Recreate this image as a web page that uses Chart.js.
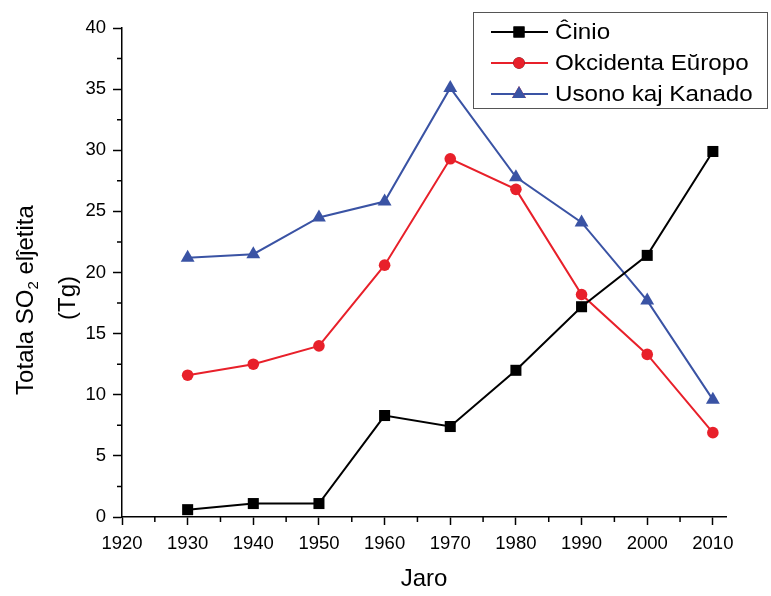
<!DOCTYPE html>
<html>
<head>
<meta charset="utf-8">
<script src="https://cdn.jsdelivr.net/npm/chart.js@4"></script>
<style>
  html, body { margin: 0; padding: 0; background: #fff; }
  canvas { display: block; }
</style>
</head>
<body>
<canvas id="chart" width="771" height="596"></canvas>
<script>
const years = [1930, 1940, 1950, 1960, 1970, 1980, 1990, 2000, 2010];
const seriesNames = ["Ĉinio", "Okcidenta Eŭropo", "Usono kaj Kanado"];
const china = [0.6, 1.1, 1.1, 8.3, 7.4, 12.0, 17.2, 21.4, 29.9];
const westEurope = [11.6, 12.5, 14.0, 20.6, 29.3, 26.8, 18.2, 13.3, 6.9];
const usaCanada = [21.2, 21.5, 24.5, 25.8, 35.1, 27.8, 24.1, 17.7, 9.6];
const xMinorTicks = [1925, 1935, 1945, 1955, 1965, 1975, 1985, 1995, 2005];
const yMinorTicks = [2.5, 7.5, 12.5, 17.5, 22.5, 27.5, 32.5, 37.5];

const FONT = "'Liberation Sans', Arial, sans-serif";

function pts(vals) {
    return vals.map((v, i) => ({ x: years[i], y: v }));
}

const styles = [
    { color: "#000000", pointStyle: "rect", radius: 7.8 },
    { color: "#e8202a", pointStyle: "circle", radius: 5.8 },
    { color: "#3a53a4", pointStyle: "triangle", radius: 8 }
];

const extras = {
    id: "extras",
    afterDraw(chart) {
        const ctx = chart.ctx;
        const xs = chart.scales.x, ys = chart.scales.y;
        ctx.save();
        // minor ticks
        ctx.strokeStyle = "#000";
        ctx.lineWidth = 1.5;
        ctx.beginPath();
        xMinorTicks.forEach(v => {
            const px = xs.getPixelForValue(v);
            ctx.moveTo(px, ys.bottom);
            ctx.lineTo(px, ys.bottom + 5);
        });
        yMinorTicks.forEach(v => {
            const py = ys.getPixelForValue(v);
            ctx.moveTo(xs.left, py);
            ctx.lineTo(xs.left - 5, py);
        });
        ctx.stroke();

        // y axis title, two lines with subscript
        ctx.fillStyle = "#000";
        ctx.translate(0, 0);
        const cy = 300;
        ctx.save();
        ctx.translate(33, cy);
        ctx.rotate(-Math.PI / 2);
        ctx.textBaseline = "alphabetic";
        const big = "24px " + FONT, small = "15px " + FONT;
        ctx.font = big;
        const a = "Totala SO", c = " elĵetita";
        const wa = ctx.measureText(a).width, wc = ctx.measureText(c).width;
        ctx.font = small;
        const wb = ctx.measureText("2").width;
        let x = -(wa + wb + wc) / 2;
        ctx.font = big;
        ctx.textAlign = "left";
        ctx.fillText(a, x, 0);
        ctx.font = small;
        ctx.fillText("2", x + wa, 5);
        ctx.font = big;
        ctx.fillText(c, x + wa + wb, 0);
        ctx.restore();
        ctx.save();
        ctx.translate(75, 298);
        ctx.rotate(-Math.PI / 2);
        ctx.font = big;
        ctx.textAlign = "center";
        ctx.textBaseline = "alphabetic";
        ctx.fillText("(Tg)", 0, 0);
        ctx.restore();

        // legend box
        ctx.strokeStyle = "#555";
        ctx.lineWidth = 1;
        ctx.strokeRect(473.5, 12.5, 294, 96);
        chart.data.datasets.forEach((ds, i) => {
            const y = 32 + i * 31;
            ctx.strokeStyle = ds.borderColor;
            ctx.lineWidth = 2;
            ctx.beginPath();
            ctx.moveTo(491, y);
            ctx.lineTo(548, y);
            ctx.stroke();
            Chart.helpers.drawPoint(ctx, {
                pointStyle: ds.pointStyle,
                radius: ds.pointRadius,
                borderWidth: 0,
                rotation: 0
            }, 519, y);
            ctx.fillStyle = ds.borderColor;
            ctx.fill();
            ctx.save();
            ctx.translate(555, y);
            ctx.scale(1.1, 1);
            ctx.fillStyle = "#000";
            ctx.font = "22px " + FONT;
            ctx.textBaseline = "middle";
            ctx.textAlign = "left";
            ctx.fillText(ds.label, 0, 1);
            ctx.restore();
        });
        ctx.restore();
    }
};

new Chart(document.getElementById("chart"), {
    type: "line",
    data: {
        datasets: [china, westEurope, usaCanada].map((vals, i) => ({
            label: seriesNames[i],
            data: pts(vals),
            borderColor: styles[i].color,
            backgroundColor: styles[i].color,
            pointBackgroundColor: styles[i].color,
            pointBorderWidth: 0,
            pointStyle: styles[i].pointStyle,
            pointRadius: styles[i].radius,
            borderWidth: 2,
            tension: 0
        }))
    },
    options: {
        responsive: false,
        animation: false,
        layout: { padding: { top: 28, right: 45, left: 0, bottom: 0 } },
        plugins: { legend: { display: false }, tooltip: { enabled: false } },
        scales: {
            x: {
                type: "linear",
                min: 1920,
                max: 2012,
                afterFit(scale) { scale.height = 79; },
                ticks: {
                    stepSize: 10,
                    includeBounds: false,
                    padding: 8,
                    color: "#000",
                    font: { family: FONT, size: 18.5 },
                    maxRotation: 0,
                    callback: v => String(v)
                },
                grid: { drawOnChartArea: false, tickLength: 8, tickWidth: 1.5, tickColor: "#000" },
                border: { color: "#000", width: 1.5 },
                title: {
                    display: true,
                    text: "Jaro",
                    color: "#000",
                    font: { family: FONT, size: 24 },
                    padding: { top: 0, bottom: 2 }
                }
            },
            y: {
                min: 0,
                max: 40,
                afterFit(scale) { scale.width = 122; },
                ticks: {
                    stepSize: 5,
                    padding: 7,
                    color: "#000",
                    font: { family: FONT, size: 18.5 }
                },
                grid: { drawOnChartArea: false, tickLength: 9, tickWidth: 1.5, tickColor: "#000" },
                border: { color: "#000", width: 1.5 }
            }
        }
    },
    plugins: [extras]
});
</script>
</body>
</html>
